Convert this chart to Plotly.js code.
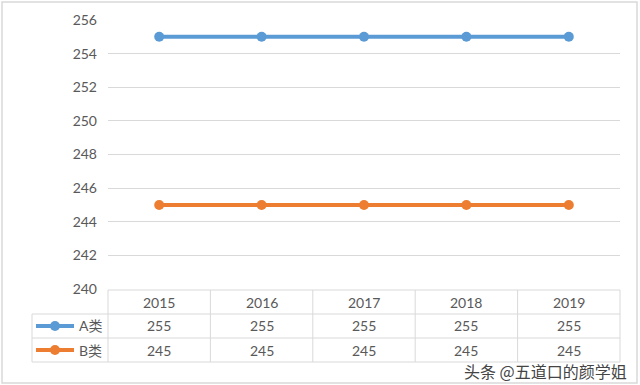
<!DOCTYPE html>
<html>
<head>
<meta charset="utf-8">
<script src="https://cdn.plot.ly/plotly-3.0.1.min.js"></script>
<style>html,body{margin:0;padding:0;background:#fff;}#chart{width:640px;height:385px;}</style>
</head>
<body>
<div id="chart"></div>
<script>
const years = ['2015', '2016', '2017', '2018', '2019'];
const seriesNames = ['A类', 'B类'];
const seriesA = [255, 255, 255, 255, 255];
const seriesB = [245, 245, 245, 245, 245];
const colors = ['#5B9BD5', '#ED7D31'];
const watermark = '头条 @五道口的颜学姐';

const FONT = 'Lato, "Noto Sans CJK SC", sans-serif';
const TXT = '#595959';
const GRID = '#d9d9d9';

const series = [seriesA, seriesB];
const traces = series.map((vals, i) => ({
  type: 'scatter', mode: 'lines+markers', x: years, y: vals, name: seriesNames[i],
  line: {color: colors[i], width: 4}, marker: {color: colors[i], size: 10},
  cliponaxis: false, hoverinfo: 'x+y'
}));

// pixel helpers for table layout (plot area: x 108..620, y 20..289)
const L = 108, R = 20, T = 20, B = 96, W = 640, H = 385;
const pw = W - L - R, ph = H - T - B;
const px = x => (x - L) / pw;
const py = y => (H - B - y) / ph;

const shapes = [];
const ann = [];
const line = (x0, y0, x1, y1, color, width) => shapes.push({type: 'line', xref: 'paper', yref: 'paper',
  x0: px(x0), y0: py(y0), x1: px(x1), y1: py(y1), line: {color: color || GRID, width: width || 1}});

// outer frame
shapes.push({type: 'rect', xref: 'paper', yref: 'paper', x0: px(2), x1: px(637), y0: py(383), y1: py(2),
  line: {color: GRID, width: 1.5}, layer: 'below'});

// table grid
const rowLines = [314, 338, 362];
rowLines.forEach(y => line(32, y, 620, y));
line(108, 290, 620, 290);
line(32, 314, 32, 362);
for (let i = 0; i <= years.length; i++) {
  shapes.push({type: 'line', xref: 'paper', yref: 'paper', x0: i / years.length, x1: i / years.length,
    y0: py(290), y1: py(362), line: {color: GRID, width: 1}});
}

// header cells (x given as category index on the category axis)
years.forEach((yr, j) => ann.push({x: j, xref: 'x', y: py(302), yref: 'paper', text: yr, showarrow: false,
  font: {family: FONT, size: 14, color: TXT}, xanchor: 'center', yanchor: 'middle'}));

// data rows
const rowY = [326, 350];
series.forEach((vals, si) => {
  vals.forEach((v, j) => ann.push({x: j, xref: 'x', y: py(rowY[si]), yref: 'paper', text: String(v),
    showarrow: false, font: {family: FONT, size: 14, color: TXT}, xanchor: 'center', yanchor: 'middle'}));
  // legend key
  line(36, rowY[si], 74, rowY[si], colors[si], 4);
  shapes.push({type: 'circle', xref: 'paper', yref: 'paper', xsizemode: 'pixel', ysizemode: 'pixel',
    xanchor: px(55), yanchor: py(rowY[si]), x0: -5, x1: 5, y0: -5, y1: 5,
    fillcolor: colors[si], line: {color: colors[si], width: 0}});
  ann.push({x: px(77), xref: 'paper', y: py(rowY[si]), yref: 'paper', text: seriesNames[si], showarrow: false,
    font: {family: FONT, size: 14, color: TXT}, xanchor: 'left', yanchor: 'middle'});
});

// watermark
ann.push({x: px(462), xref: 'paper', y: py(371), yref: 'paper', text: watermark, showarrow: false,
  font: {family: '"Noto Sans CJK SC", sans-serif', size: 16, color: '#444444', shadow: '1px 1px 1px #fff'},
  xanchor: 'left', yanchor: 'middle'});

const layout = {
  width: W, height: H, margin: {l: L, r: R, t: T, b: B, pad: 0},
  paper_bgcolor: '#fff', plot_bgcolor: '#fff', showlegend: false,
  font: {family: FONT, color: TXT},
  xaxis: {type: 'category', showticklabels: false, showgrid: false, zeroline: false, showline: false,
    ticks: '', range: [-0.5, years.length - 0.5], fixedrange: true},
  yaxis: {range: [240, 256], dtick: 2, tick0: 240, showgrid: true, gridcolor: GRID, gridwidth: 1,
    zeroline: false, showline: false, ticks: '', ticklabelstandoff: 10,
    tickfont: {family: FONT, size: 14, color: TXT}, fixedrange: true},
  shapes: shapes, annotations: ann
};

Plotly.newPlot('chart', traces, layout, {staticPlot: true, displayModeBar: false});
</script>
</body>
</html>
